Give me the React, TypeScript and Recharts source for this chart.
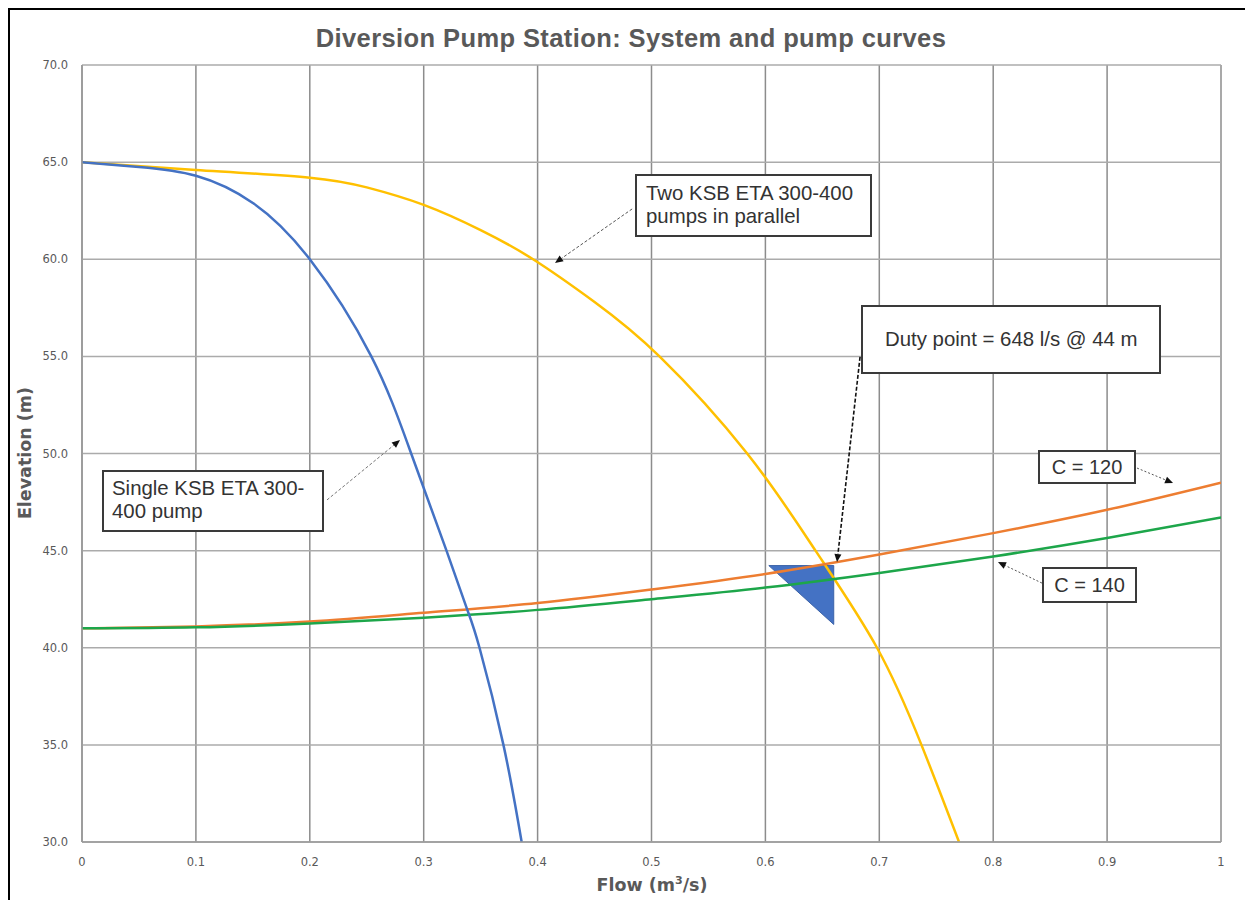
import React from "react";
import {
  LineChart,
  Line,
  XAxis,
  YAxis,
  CartesianGrid,
  ReferenceLine,
  ReferenceArea,
} from "recharts";

// ---------- data (flow in m3/s, elevation in m) ----------
const flowTicks = [0, 0.1, 0.2, 0.3, 0.4, 0.5, 0.6, 0.7, 0.8, 0.9, 1];
const elevationTicks = [30, 35, 40, 45, 50, 55, 60, 65, 70];

const singlePump = [
  { q: 0, h: 65 },
  { q: 0.05, h: 64.75 },
  { q: 0.1, h: 64.3 },
  { q: 0.15, h: 62.9 },
  { q: 0.2, h: 60.0 },
  { q: 0.254, h: 55.0 },
  { q: 0.289, h: 50.0 },
  { q: 0.32, h: 45.0 },
  { q: 0.338, h: 42.0 },
  { q: 0.349, h: 40.0 },
  { q: 0.37, h: 35.0 },
  { q: 0.386, h: 30.0 },
];

const twoPumps = [
  { q: 0, h: 65 },
  { q: 0.1, h: 64.6 },
  { q: 0.2, h: 64.2 },
  { q: 0.25, h: 63.7 },
  { q: 0.3, h: 62.8 },
  { q: 0.35, h: 61.5 },
  { q: 0.396, h: 60.0 },
  { q: 0.45, h: 57.8 },
  { q: 0.507, h: 55.0 },
  { q: 0.584, h: 50.0 },
  { q: 0.644, h: 45.0 },
  { q: 0.698, h: 40.0 },
  { q: 0.737, h: 35.0 },
  { q: 0.77, h: 30.0 },
];

const systemC120 = [
  { q: 0, h: 41.0 },
  { q: 0.1, h: 41.1 },
  { q: 0.2, h: 41.35 },
  { q: 0.3, h: 41.8 },
  { q: 0.4, h: 42.3 },
  { q: 0.5, h: 43.0 },
  { q: 0.6, h: 43.8 },
  { q: 0.7, h: 44.8 },
  { q: 0.8, h: 45.9 },
  { q: 0.9, h: 47.1 },
  { q: 1.0, h: 48.5 },
];

const systemC140 = [
  { q: 0, h: 41.0 },
  { q: 0.1, h: 41.05 },
  { q: 0.2, h: 41.25 },
  { q: 0.3, h: 41.55 },
  { q: 0.4, h: 41.95 },
  { q: 0.5, h: 42.5 },
  { q: 0.6, h: 43.1 },
  { q: 0.7, h: 43.85 },
  { q: 0.8, h: 44.7 },
  { q: 0.9, h: 45.65 },
  { q: 1.0, h: 46.7 },
];

// duty point marker (triangle) extent in data units
const dutyMarker = { q1: 0.603, q2: 0.66, h1: 41.2, h2: 44.23 };

// annotation leader arrows, in data units
const arrows = [
  { from: { q: 0.483, h: 62.59 }, to: { q: 0.4153, h: 59.81 }, color: "#555", dash: "3 2", width: 1 },
  { from: { q: 0.2151, h: 47.61 }, to: { q: 0.2792, h: 50.69 }, color: "#777", dash: "3 2", width: 1 },
  { from: { q: 0.6831, h: 54.97 }, to: { q: 0.6629, h: 44.41 }, color: "#111", dash: "4 2", width: 1.6 },
  { from: { q: 0.9263, h: 49.25 }, to: { q: 0.9579, h: 48.48 }, color: "#555", dash: "2 2", width: 1 },
  { from: { q: 0.8428, h: 43.33 }, to: { q: 0.8042, h: 44.41 }, color: "#555", dash: "2 2", width: 1 },
];

const FONT = "'Liberation Sans', Arial, sans-serif";
const TICKFONT = "'DejaVu Sans', Verdana, sans-serif";
const GRAY = "#595959";

const ArrowShape = (props: any) => {
  const { x1, y1, x2, y2, stroke, strokeDasharray, strokeWidth } = props;
  if ([x1, y1, x2, y2].some((v) => typeof v !== "number" || isNaN(v))) return <g />;
  const ang = Math.atan2(y2 - y1, x2 - x1);
  const len = 8;
  const hw = 3.5;
  const bx = x2 - len * Math.cos(ang);
  const by = y2 - len * Math.sin(ang);
  const px = -Math.sin(ang) * hw;
  const py = Math.cos(ang) * hw;
  return (
    <g>
      <line
        x1={x1}
        y1={y1}
        x2={bx}
        y2={by}
        stroke={stroke}
        strokeWidth={strokeWidth}
        strokeDasharray={strokeDasharray}
      />
      <polygon
        points={`${x2},${y2} ${bx + px},${by + py} ${bx - px},${by - py}`}
        fill="#111"
      />
    </g>
  );
};

const TriangleShape = (props: any) => {
  const { x, y, width, height } = props;
  if ([x, y, width, height].some((v) => typeof v !== "number" || isNaN(v))) return <g />;
  return (
    <polygon
      points={`${x},${y} ${x + width},${y} ${x + width},${y + height}`}
      fill="#4472C4"
      stroke="#3b62a8"
      strokeWidth={1}
    />
  );
};

const boxStyle: React.CSSProperties = {
  position: "absolute",
  background: "#fff",
  border: "2px solid #3a3a3a",
  boxSizing: "border-box",
  fontFamily: FONT,
  color: "#333",
  whiteSpace: "nowrap",
};

export default function App() {
  const W = 1235;
  const H = 890;
  return (
    <div
      style={{
        position: "relative",
        width: W,
        height: H,
        borderTop: "2px solid #000",
        borderLeft: "2px solid #000",
        background: "#fff",
        fontFamily: FONT,
      }}
    >
      <LineChart
        width={W}
        height={H}
        margin={{ top: 55, right: 24, bottom: 28, left: 12 }}
      >
        <CartesianGrid horizontal={false} stroke="#8c8c8c" strokeWidth={1.5} />
        <CartesianGrid vertical={false} stroke="#ababab" strokeWidth={1.5} />
        <XAxis
          dataKey="q"
          type="number"
          domain={[0, 1]}
          ticks={flowTicks}
          allowDataOverflow
          tickFormatter={(v: number) => String(v)}
          tick={{ fill: GRAY, fontSize: 11.5, fontFamily: TICKFONT }}
          tickLine={false}
          axisLine={{ stroke: "#9a9a9a", strokeWidth: 1.5 }}
          tickMargin={10}
          height={30}
        />
        <YAxis
          type="number"
          domain={[30, 70]}
          ticks={elevationTicks}
          allowDataOverflow
          tickFormatter={(v: number) => v.toFixed(1)}
          tick={{ fill: GRAY, fontSize: 11.5, fontFamily: TICKFONT }}
          tickLine={false}
          axisLine={{ stroke: "#9a9a9a", strokeWidth: 1.5 }}
          tickMargin={8}
          width={60}
        />
        <Line
          data={twoPumps}
          dataKey="h"
          type="natural"
          stroke="#FFC000"
          strokeWidth={2.5}
          dot={false}
          isAnimationActive={false}
        />
        <Line
          data={systemC120}
          dataKey="h"
          type="natural"
          stroke="#ED7D31"
          strokeWidth={2.5}
          dot={false}
          isAnimationActive={false}
        />
        <Line
          data={systemC140}
          dataKey="h"
          type="natural"
          stroke="#1DA64A"
          strokeWidth={2.5}
          dot={false}
          isAnimationActive={false}
        />
        <Line
          data={singlePump}
          dataKey="h"
          type="natural"
          stroke="#4472C4"
          strokeWidth={2.5}
          dot={false}
          isAnimationActive={false}
        />
        <ReferenceArea
          x1={dutyMarker.q1}
          x2={dutyMarker.q2}
          y1={dutyMarker.h1}
          y2={dutyMarker.h2}
          shape={TriangleShape}
        />
        {arrows.map((a, i) => (
          <ReferenceLine
            key={i}
            segment={[
              { x: a.from.q, y: a.from.h },
              { x: a.to.q, y: a.to.h },
            ]}
            stroke={a.color}
            strokeDasharray={a.dash}
            strokeWidth={a.width}
            shape={ArrowShape}
          />
        ))}
      </LineChart>

      {/* title */}
      <div
        style={{
          position: "absolute",
          left: 171,
          width: 900,
          top: 13,
          textAlign: "center",
          fontSize: 25.5,
          fontWeight: "bold",
          letterSpacing: 0.4,
          color: GRAY,
          lineHeight: "30px",
        }}
      >
        Diversion Pump Station: System and pump curves
      </div>

      {/* axis titles */}
      <div
        style={{
          position: "absolute",
          left: 442,
          width: 400,
          top: 864,
          textAlign: "center",
          fontSize: 17.5,
          fontWeight: "bold",
          fontFamily: TICKFONT,
          color: GRAY,
          lineHeight: "22px",
        }}
      >
        Flow (m<sup style={{ fontSize: 11, verticalAlign: "7px", lineHeight: 0 }}>3</sup>/s)
      </div>
      <div
        style={{
          position: "absolute",
          left: 15 - 100,
          width: 200,
          top: 443 - 11,
          textAlign: "center",
          fontSize: 17.5,
          fontWeight: "bold",
          fontFamily: TICKFONT,
          color: GRAY,
          lineHeight: "22px",
          transform: "rotate(-90deg)",
        }}
      >
        Elevation (m)
      </div>

      {/* annotation boxes */}
      <div
        style={{
          ...boxStyle,
          left: 625,
          top: 164,
          width: 237,
          height: 63,
          fontSize: 20.4,
          lineHeight: "23px",
          padding: "6px 0 0 9px",
        }}
      >
        Two KSB ETA 300-400
        <br />
        pumps in parallel
      </div>
      <div
        style={{
          ...boxStyle,
          left: 92,
          top: 460,
          width: 222,
          height: 62,
          fontSize: 20.4,
          lineHeight: "23px",
          padding: "5px 0 0 8px",
        }}
      >
        Single KSB ETA 300-
        <br />
        400 pump
      </div>
      <div
        style={{
          ...boxStyle,
          left: 851,
          top: 295,
          width: 300,
          height: 69,
          fontSize: 20.4,
          lineHeight: "65px",
          paddingLeft: 22,
        }}
      >
        Duty point = 648 l/s @ 44 m
      </div>
      <div
        style={{
          ...boxStyle,
          left: 1028,
          top: 440,
          width: 98,
          height: 34,
          fontSize: 20,
          lineHeight: "30px",
          textAlign: "center",
        }}
      >
        C = 120
      </div>
      <div
        style={{
          ...boxStyle,
          left: 1032,
          top: 557,
          width: 95,
          height: 36,
          fontSize: 20,
          lineHeight: "32px",
          textAlign: "center",
        }}
      >
        C = 140
      </div>
    </div>
  );
}
